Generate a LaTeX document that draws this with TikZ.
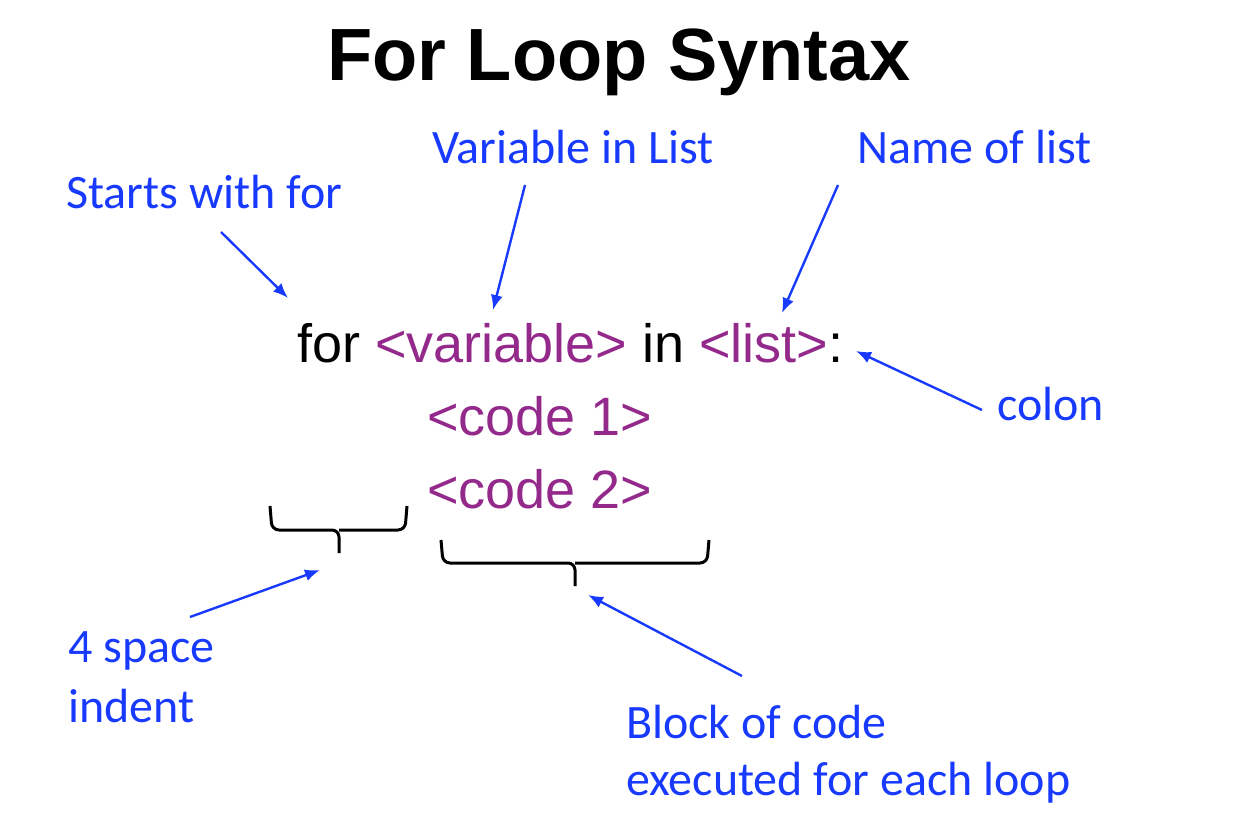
\documentclass[tikz,border=0pt]{standalone}
\usepackage{fontspec}
\setmainfont{Liberation Sans}
\newfontfamily\notefont{Carlito}
\usetikzlibrary{arrows.meta}
\definecolor{codepurple}{RGB}{148,41,140}
\definecolor{noteblue}{RGB}{24,58,255}
\tikzset{
  note/.style={text=noteblue, font=\notefont\fontsize{48}{60}\selectfont, anchor=base west, inner sep=0pt, align=left},
  code/.style={font=\fontsize{54}{64}\selectfont, anchor=base west, inner sep=0pt},
  pointer/.style={draw=noteblue, line width=2.4pt, -{Latex[length=15pt,width=12pt]}},
  bracepath/.style={draw=black, line width=3pt, rounded corners=7pt}
}
\begin{document}
\begin{tikzpicture}[x=1pt, y=-1pt]
        \useasboundingbox (0,0) rectangle (1244,816);
        \node[font=\bfseries\fontsize{74}{80}\selectfont, anchor=base] (title) at (619,80) {For Loop Syntax};
        % the loop itself
        \node[code] (line1) at (297,362) {for \textcolor{codepurple}{<variable>} in \textcolor{codepurple}{<list>}:};
        \node[code, text=codepurple] (line2) at (427,435) {<code 1>};
        \node[code, text=codepurple] (line3) at (427,508) {<code 2>};
        % notes (two-line notes sit on their last line)
        \node[note] (starts) at (66,208) {Starts with for};
        \node[note] (var) at (432,163) {Variable in List};
        \node[note] (name) at (857,163) {Name of list};
        \node[note] (colon) at (997,420) {colon};
        \node[note] (indent) at (68,722) {4 space\\[0pt]indent};
        \node[note] (block) at (626,795) {Block of code\\[-3pt]executed for each loop};
        % arrow ends
        \coordinate (startsTail) at (221,232);
        \coordinate (forTip) at (288,298);
        \coordinate (varTail) at (525,185);
        \coordinate (varTip) at (493,310);
        \coordinate (nameTail) at (838,185);
        \coordinate (nameTip) at (782,313);
        \coordinate (colonTail) at (982,410);
        \coordinate (colonTip) at (856,351);
        \coordinate (indentTail) at (190,617);
        \coordinate (indentTip) at (320,570);
        \coordinate (blockTail) at (742,676);
        \coordinate (blockTip) at (588,595);
        \draw[pointer] (startsTail) -- (forTip);
        \draw[pointer] (varTail) -- (varTip);
        \draw[pointer] (nameTail) -- (nameTip);
        \draw[pointer] (colonTail) -- (colonTip);
        \draw[pointer] (indentTail) -- (indentTip);
        \draw[pointer] (blockTail) -- (blockTip);
        % braces
        \draw[bracepath] (270,506) -- (272,530) -- (339,530) -- (339,553);
        \draw[bracepath] (407,506) -- (405,530) -- (339,530);
        \draw[bracepath] (441,540) -- (443,563) -- (575,563) -- (575,586);
        \draw[bracepath] (709,540) -- (707,563) -- (575,563);
    \end{tikzpicture}
\end{document}
